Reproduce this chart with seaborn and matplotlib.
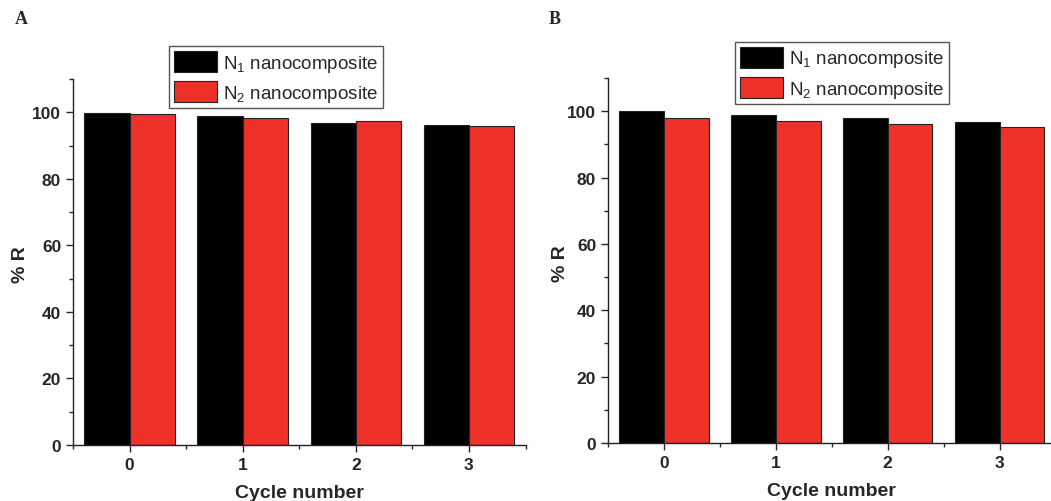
import matplotlib
matplotlib.use("Agg")
import matplotlib.pyplot as plt
import seaborn as sns
import pandas as pd
from matplotlib.ticker import MultipleLocator

cycles = ["0", "1", "2", "3"]
series_names = ["N$_1$ nanocomposite", "N$_2$ nanocomposite"]
a_n1 = [99.8, 99.0, 96.8, 96.3]
a_n2 = [99.5, 98.2, 97.3, 95.9]
b_n1 = [100.0, 98.8, 98.0, 96.7]
b_n2 = [98.0, 96.9, 96.0, 95.2]

colors = ["#000000", "#EE3129"]

sns.set_theme(style="ticks")
plt.rcParams['font.family'] = ['Liberation Sans', 'DejaVu Sans']
plt.rcParams['mathtext.default'] = 'regular'

def frame(n1, n2):
    rows = []
    for c, v in zip(cycles, n1):
        rows.append({"cycle": c, "series": series_names[0], "value": v})
    for c, v in zip(cycles, n2):
        rows.append({"cycle": c, "series": series_names[1], "value": v})
    return pd.DataFrame(rows)

fig = plt.figure(figsize=(10.51, 5.02), dpi=100)
axA = fig.add_axes([73/1051, 1-446/502, 452.5/1051, 366/502])
axB = fig.add_axes([608/1051, 1-444/502, 447.5/1051, 365/502])

for ax, n1, n2, leg_x, leg_y, ylx in [(axA, a_n1, a_n2, 0.212, 1.090, -0.098),
                                      (axB, b_n1, b_n2, 0.284, 1.099, -0.087)]:
    df = frame(n1, n2)
    sns.barplot(data=df, x="cycle", y="value", hue="series", hue_order=series_names,
                palette=colors, ax=ax, edgecolor="#222222", linewidth=0.8,
                width=0.8, saturation=1, legend=True)
    ax.set_xlim(-0.5, 3.5)
    ax.set_ylim(0, 110)
    ax.yaxis.set_major_locator(MultipleLocator(20))
    ax.yaxis.set_minor_locator(MultipleLocator(10))
    ax.xaxis.set_minor_locator(MultipleLocator(0.5))
    ax.tick_params(which="major", direction="out", length=5, width=1, labelsize=12.5)
    ax.tick_params(which="minor", direction="out", length=3, width=1)
    for t in ax.get_xticklabels() + ax.get_yticklabels():
        t.set_fontweight("bold")
    sns.despine(ax=ax)
    for s in ["left", "bottom"]:
        ax.spines[s].set_linewidth(1)
        ax.spines[s].set_color("#222222")
    ax.set_xlabel("Cycle number", fontsize=14, fontweight="bold", labelpad=9)
    ax.set_ylabel("% R", fontsize=14, fontweight="bold")
    ax.yaxis.set_label_coords(ylx, 0.495)
    handles, labels = ax.get_legend_handles_labels()
    ax.legend(handles, labels, loc="upper left", bbox_to_anchor=(leg_x, leg_y),
              borderaxespad=0, fancybox=False, edgecolor="#555555", framealpha=1,
              fontsize=13.5, handlelength=2.3, handleheight=1.35, handletextpad=0.35,
              labelspacing=0.4, borderpad=0.25)

fig.text(15/1051, 1-20/502, "A", fontsize=13, fontweight="bold", family="Liberation Serif", va="center")
fig.text(549/1051, 1-20/502, "B", fontsize=13, fontweight="bold", family="Liberation Serif", va="center")

fig.savefig("out.png", dpi=100)
